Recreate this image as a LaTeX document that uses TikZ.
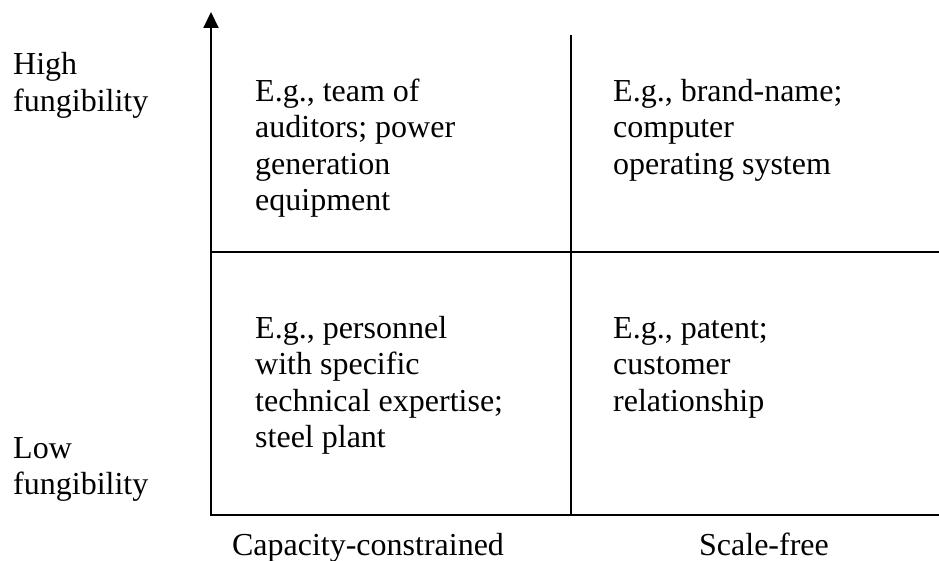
\documentclass[tikz,border=0pt]{standalone}
\usepackage{fontspec}
\setmainfont{Liberation Serif}
\usetikzlibrary{arrows.meta}
% multi-line text block aligned on its first baseline
\newcommand{\lines}[1]{\begin{tabular}[t]{@{}l@{}}#1\end{tabular}}

\begin{document}
\begin{tikzpicture}[x=1pt,y=-1pt,
  lbl/.style={inner sep=0pt, anchor=base west, font=\fontsize{32}{36.5}\selectfont},
  axlbl/.style={inner sep=0pt, anchor=base, font=\fontsize{32}{36.5}\selectfont},
  axis/.style={line width=2pt}]
\useasboundingbox (0,0) rectangle (939,561);

% frame points
\coordinate (o) at (211,515);
\coordinate (ytop) at (211,12);
\coordinate (xend) at (939,515);
\coordinate (ml) at (211,252);
\coordinate (mr) at (939,252);
\coordinate (vt) at (571,35);
\coordinate (vb) at (571,515);

% axes and quadrant dividers
\draw[axis,{Triangle[width=15pt,length=16pt]}-] (ytop) -- (o) -- (xend);
\draw[axis] (ml) -- (mr);
\draw[axis] (vt) -- (vb);

% vertical axis labels
\node[lbl] (high) at (13,75) {\lines{High\\fungibility}};
\node[lbl] (low) at (13,458) {\lines{Low\\fungibility}};

% quadrant texts
\node[lbl] (tl) at (255,101.5) {\lines{E.g., team of\\auditors; power\\generation\\equipment}};
\node[lbl] (tr) at (613,101.5) {\lines{E.g., brand-name;\\computer\\operating system}};
\node[lbl] (bl) at (255,338) {\lines{E.g., personnel\\with specific\\technical expertise;\\steel plant}};
\node[lbl] (br) at (613,338) {\lines{E.g., patent;\\customer\\relationship}};

% horizontal axis labels
\node[axlbl] (cc) at (368,555) {Capacity-constrained};
\node[axlbl] (sf) at (764,555) {Scale-free};
\end{tikzpicture}
\end{document}
